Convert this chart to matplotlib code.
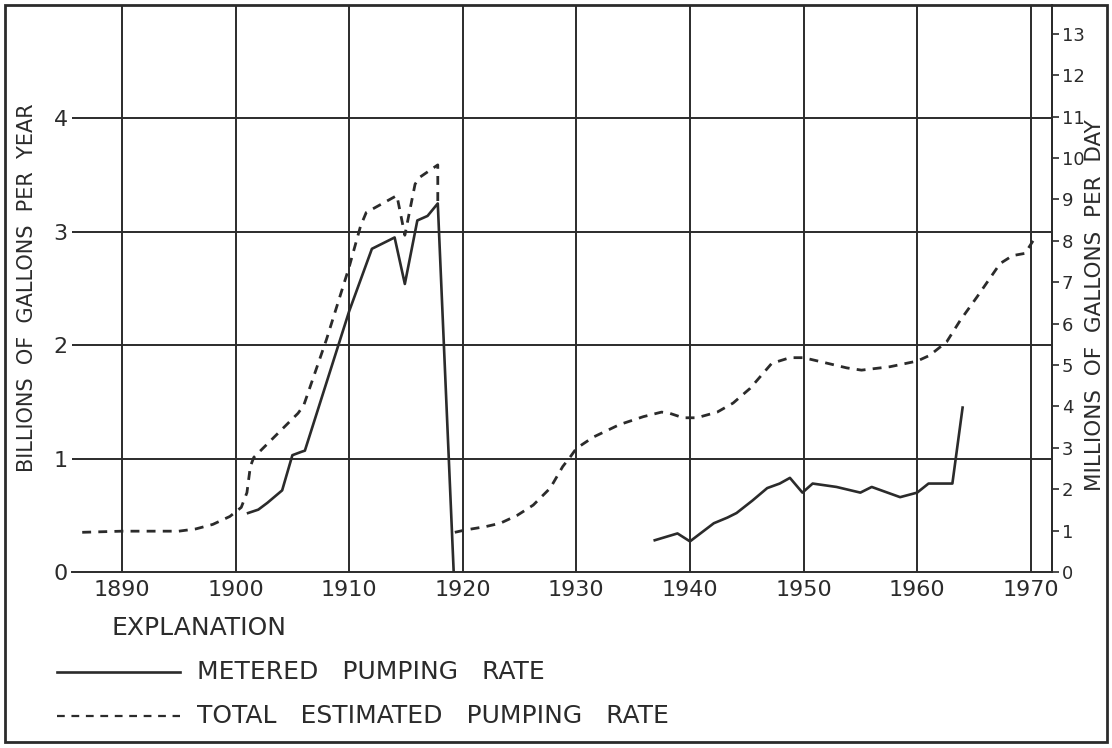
import matplotlib
matplotlib.use("Agg")
import matplotlib.pyplot as plt
from matplotlib.lines import Line2D
from matplotlib.patches import Rectangle

plt.rcParams["font.family"] = ["DejaVu Sans"]

INK = "#2b2b2b"

# total estimated pumping rate, billions of gallons per year (dashed)
total_yr_a = [1886.5, 1890, 1895, 1896.5, 1898, 1899.5, 1900.5, 1901, 1901.3, 1901.6,
              1903, 1904.5, 1905.5, 1906, 1908, 1910, 1911, 1911.5, 1914.2, 1914.9,
              1915.8, 1916.2, 1917.8, 1917.8]
total_val_a = [0.35, 0.36, 0.36, 0.38, 0.42, 0.49, 0.57, 0.70, 0.93, 1.01,
               1.15, 1.30, 1.40, 1.47, 2.05, 2.69, 3.05, 3.17, 3.32, 2.97,
               3.42, 3.48, 3.59, 3.25]
total_yr_b = [1919.3, 1920.2, 1922, 1923.3, 1924.8, 1926.2, 1927.7, 1928.8, 1929.5, 1930,
              1931.5, 1933.8, 1935.9, 1937.5, 1938.2, 1939.4, 1940.6, 1942.4, 1943.8, 1945.3,
              1947.2, 1948.8, 1950, 1951.7, 1953.8, 1955.1, 1957.6, 1960, 1961.1, 1962.6,
              1963.8, 1965.3, 1967.3, 1968.4, 1969.5, 1970.2]
total_val_b = [0.35, 0.37, 0.40, 0.43, 0.50, 0.59, 0.74, 0.93, 1.02, 1.09,
               1.19, 1.30, 1.37, 1.41, 1.40, 1.36, 1.36, 1.41, 1.49, 1.62,
               1.84, 1.89, 1.89, 1.85, 1.80, 1.78, 1.81, 1.86, 1.91, 2.03,
               2.22, 2.43, 2.72, 2.79, 2.81, 2.92]

# metered pumping rate (solid)
meter_yr_a = [1901.1, 1902, 1902.8, 1904.1, 1905, 1905.8, 1906.1, 1910, 1912, 1914,
              1914.9, 1916, 1916.9, 1917.8, 1919.2]
meter_val_a = [0.52, 0.55, 0.61, 0.72, 1.03, 1.06, 1.07, 2.30, 2.85, 2.95,
               2.54, 3.10, 3.14, 3.25, 0.0]
meter_yr_b = [1936.9, 1938.9, 1940, 1942.1, 1943.3, 1944.1, 1945.5, 1946.8, 1947.9, 1948.8,
              1949.9, 1950.8, 1952.9, 1955, 1956, 1958.5, 1960, 1961, 1963.1, 1964]
meter_val_b = [0.28, 0.34, 0.27, 0.43, 0.48, 0.52, 0.63, 0.74, 0.78, 0.83,
               0.70, 0.78, 0.75, 0.70, 0.75, 0.66, 0.70, 0.78, 0.78, 1.45]

decades = list(range(1890, 1971, 10))
left_ticks = [0, 1, 2, 3, 4]
right_ticks = list(range(0, 14))
GAL_YR_TO_MGD = 1000.0 / 365.0   # billion gal/yr -> million gal/day

fig = plt.figure(figsize=(11.12, 7.48), dpi=100)
ax = fig.add_axes([72 / 1112, 1 - 572 / 748, 980 / 1112, 567 / 748])

ax.set_xlim(1885.6, 1971.87)
ax.set_ylim(0, 5)
for x in decades:
    ax.axvline(x, color=INK, lw=1.4, zorder=1)
for y in left_ticks[1:]:
    ax.axhline(y, color=INK, lw=1.4, zorder=1)

dash = dict(color=INK, lw=2.0, ls=(0, (3.2, 2.6)), zorder=3)
ax.plot(total_yr_a, total_val_a, **dash)
ax.plot(total_yr_b, total_val_b, **dash)
ax.plot(meter_yr_a, meter_val_a, color=INK, lw=1.9, zorder=3)
ax.plot(meter_yr_b, meter_val_b, color=INK, lw=1.9, zorder=3)

for s in ("left", "top"):
    ax.spines[s].set_visible(False)
ax.spines["bottom"].set_color(INK)
ax.spines["bottom"].set_linewidth(1.4)
ax.spines["right"].set_color(INK)
ax.spines["right"].set_linewidth(1.4)

ax.set_xticks(decades)
ax.set_xticklabels([str(d) for d in decades])
ax.set_yticks(left_ticks)
ax.set_yticklabels([str(v) for v in left_ticks])
ax.tick_params(axis="x", length=0, pad=6, labelsize=16, labelcolor=INK)
ax.tick_params(axis="y", length=0, pad=3, labelsize=16, labelcolor=INK)

ax2 = ax.twinx()
ax2.set_ylim(0, 5 * GAL_YR_TO_MGD)
ax2.set_yticks(right_ticks)
ax2.set_yticklabels([str(v) for v in right_ticks])
ax2.tick_params(axis="y", length=5, width=1.2, color=INK, pad=2, labelsize=13, labelcolor=INK)
for s in ("left", "top", "bottom"):
    ax2.spines[s].set_visible(False)
ax2.spines["right"].set_color(INK)
ax2.spines["right"].set_linewidth(1.4)

fig.text(27 / 1112, 1 - 288 / 748, "BILLIONS  OF  GALLONS  PER  YEAR", rotation=90,
         ha="center", va="center", fontsize=15, color=INK)
fig.text(1095 / 1112, 1 - 305 / 748, "MILLIONS  OF  GALLONS  PER  DAY", rotation=90,
         ha="center", va="center", fontsize=15.5, color=INK)

# explanation block
fig.text(112 / 1112, 1 - 628 / 748, "EXPLANATION", ha="left", va="center",
         fontsize=18, color=INK)
fig.add_artist(Line2D([57 / 1112, 180 / 1112], [1 - 672 / 748] * 2, color=INK, lw=1.9,
                      transform=fig.transFigure))
fig.text(197 / 1112, 1 - 672 / 748, "METERED   PUMPING   RATE", ha="left", va="center",
         fontsize=18, color=INK)
fig.add_artist(Line2D([57 / 1112, 180 / 1112], [1 - 716 / 748] * 2, color=INK, lw=1.6,
                      ls=(0, (3.5, 3.0)), transform=fig.transFigure))
fig.text(197 / 1112, 1 - 716 / 748, "TOTAL   ESTIMATED   PUMPING   RATE", ha="left", va="center",
         fontsize=18, color=INK)

# outer frame
fig.add_artist(Rectangle((5 / 1112, 1 - 742 / 748), 1102 / 1112, 737 / 748, fill=False,
                         edgecolor=INK, lw=2.0, transform=fig.transFigure))

fig.savefig("out.png", dpi=100)
